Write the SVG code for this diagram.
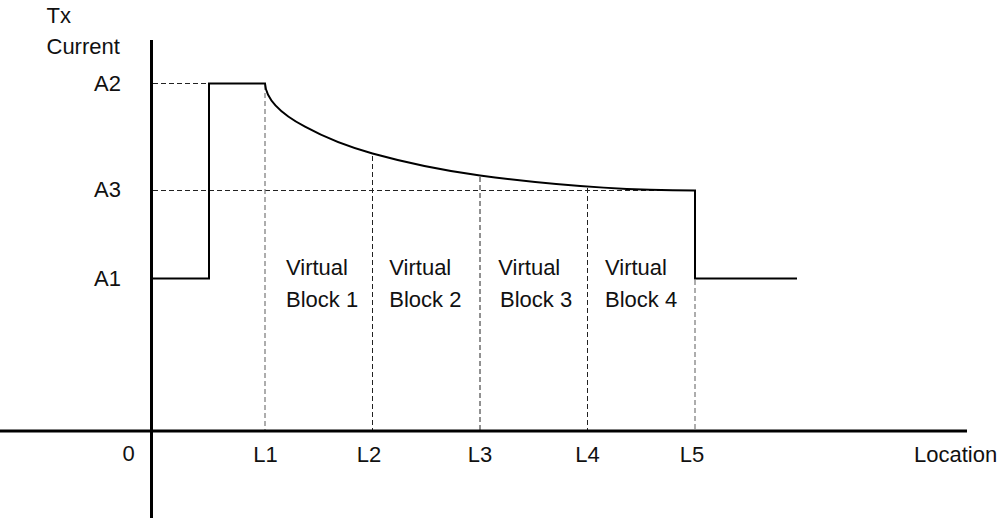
<svg xmlns="http://www.w3.org/2000/svg" width="1007" height="520" viewBox="0 0 1007 520">
  <style>
    text { font-family: "Liberation Sans", Arial, sans-serif; font-size: 22px; fill: #111; }
    .axis { stroke: #000; stroke-width: 3; fill: none; }
    .signal { stroke: #000; stroke-width: 2; fill: none; stroke-linejoin: miter; }
    .guide { stroke: #222; stroke-width: 1; stroke-dasharray: 5 3; fill: none; }
    .guide-grey { stroke: #777; stroke-width: 1.2; stroke-dasharray: 5 3; fill: none; }
  </style>
  <rect width="1007" height="520" fill="#fff"/>

  <!-- dashed reference lines -->
  <g id="guides">
    <line class="guide" x1="153" y1="83.5" x2="209" y2="83.5"/>
    <line class="guide" x1="153" y1="190.5" x2="695" y2="190.5"/>
    <line class="guide-grey" x1="265" y1="85" x2="265" y2="430"/>
    <line class="guide" x1="372.5" y1="156" x2="372.5" y2="430"/>
    <line class="guide" x1="480" y1="177" x2="480" y2="430"/>
    <line class="guide" x1="587.5" y1="188" x2="587.5" y2="430"/>
    <line class="guide-grey" x1="695" y1="280" x2="695" y2="430"/>
  </g>

  <!-- axes -->
  <g id="axes">
    <line class="axis" x1="151.5" y1="40" x2="151.5" y2="518"/>
    <line class="axis" x1="0" y1="431" x2="967" y2="431"/>
  </g>

  <!-- transmit current profile -->
  <g id="current-profile">
    <path class="signal" d="M152,278.5 H209 V83.5 H265
      C266,100 282,114.5 305,126.7
      C327.5,139 350,147.3 372.5,153.5
      C408.3,163.4 444.2,170.7 480,175.5
      C551.7,185 623.3,190.5 695,190.5
      V278.5 H797"/>
  </g>

  <!-- axis labels -->
  <g id="y-labels">
    <text x="46.5" y="22.7">Tx</text>
    <text x="46.5" y="54.3">Current</text>
    <text x="121" y="90.7" text-anchor="end">A2</text>
    <text x="121" y="197.3" text-anchor="end">A3</text>
    <text x="121" y="286" text-anchor="end">A1</text>
  </g>
  <g id="x-labels">
    <text x="128.5" y="461" text-anchor="middle">0</text>
    <text x="265.5" y="461.5" text-anchor="middle">L1</text>
    <text x="369" y="461.5" text-anchor="middle">L2</text>
    <text x="480" y="461.5" text-anchor="middle">L3</text>
    <text x="587.5" y="461.5" text-anchor="middle">L4</text>
    <text x="692" y="461.5" text-anchor="middle">L5</text>
    <text x="914" y="461.5">Location</text>
  </g>

  <!-- virtual block labels -->
  <g id="block-1">
    <text x="286" y="275">Virtual</text>
    <text x="286" y="306.7">Block 1</text>
  </g>
  <g id="block-2">
    <text x="389.3" y="275">Virtual</text>
    <text x="389.3" y="306.7">Block 2</text>
  </g>
  <g id="block-3">
    <text x="498.3" y="275">Virtual</text>
    <text x="500" y="306.7">Block 3</text>
  </g>
  <g id="block-4">
    <text x="605" y="275">Virtual</text>
    <text x="605" y="306.7">Block 4</text>
  </g>
</svg>
